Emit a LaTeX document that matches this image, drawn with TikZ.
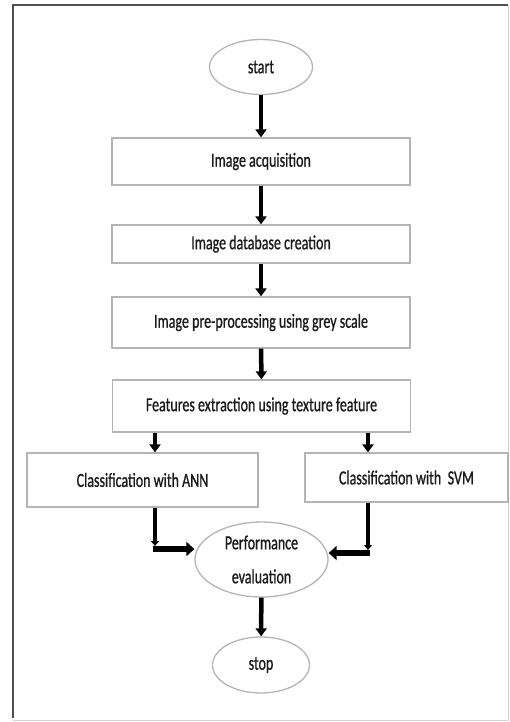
\documentclass[tikz,border=0pt]{standalone}
\usepackage{fontspec}
\setmainfont[FakeStretch=0.7, FakeBold=0.8]{Carlito}
\usetikzlibrary{arrows.meta, positioning, shapes.geometric}
\definecolor{boxgray}{HTML}{B4B4B4}
\definecolor{framegray}{HTML}{505050}
\definecolor{inkgray}{HTML}{1A1A1A}

\begin{document}
\begin{tikzpicture}[
    x=1pt, y=-1pt,
    pbox/.style={draw=boxgray, line width=1.3pt, minimum width=298pt, inner sep=0pt, align=center, text=inkgray, font=\fontsize{20}{22}\selectfont},
    term/.style={ellipse, draw=boxgray, line width=1.3pt, inner sep=0pt, align=center, text=inkgray, font=\fontsize{20}{34}\selectfont},
    arrow/.style={-{Triangle[length=8pt, width=11pt]}, line width=4.5pt, black},
    fatarrow/.style={-{Triangle[length=8pt, width=14pt]}, line width=6pt, black},
]
\useasboundingbox (0,0) rectangle (510,722);

% Frame
\draw[framegray, line width=2pt] (13,718) -- (13,5) -- (508,5);
\draw[gray!35, line width=1pt] (508,5) -- (508,720) -- (13,720);

% Main chain
\node[term, minimum width=103pt, minimum height=55pt] (start) at (261,67) {start};
\node[pbox, minimum height=47pt] (acq) at (261,161.5) {Image acquisition};
\node[pbox, minimum height=38pt] (db) at (261,244) {Image database creation};
\node[pbox, minimum height=51pt] (pre) at (261,322.5) {Image pre-processing using grey scale};
\node[pbox, minimum height=52pt] (feat) at (261.5,406) {Features extraction using texture feature};

% Classifiers
\node[pbox, minimum width=231pt, minimum height=54pt] (ann) at (142.5,480) {Classification with ANN};
\node[pbox, minimum width=203pt, minimum height=49pt] (svm) at (406.5,477.5) {Classification with\, SVM};

% Evaluation
\node[term, minimum width=133pt, minimum height=75pt] (perf) at (261.5,559.5) {Performance\\evaluation};
\node[term, minimum width=97pt, minimum height=56pt] (stop) at (261,665) {stop};

\coordinate (annbend) at (155,549);
\coordinate (svmbend) at (368,553);

% Arrows
\foreach \i/\j in {start/acq, acq/db, db/pre, pre/feat} {
    \draw[arrow] (\i) -- (\j);
}
\draw[arrow] (feat.south -| annbend) -- (ann.north -| annbend);
\draw[arrow] (feat.south -| svmbend) -- (svm.north -| svmbend);
\draw[arrow, -{Triangle[length=5pt, width=8pt]}] (ann.south -| annbend) -- ([yshift=3pt]annbend);
\draw[arrow, -{Triangle[length=5pt, width=8pt]}] (svm.south -| svmbend) -- ([yshift=3pt]svmbend);
\draw[fatarrow] ([xshift=-2.25pt]annbend) -- (annbend -| perf.west);
\draw[fatarrow] ([xshift=2.25pt]svmbend) -- (svmbend -| perf.east);
\draw[arrow] (perf) -- (stop);

\end{tikzpicture}
\end{document}
